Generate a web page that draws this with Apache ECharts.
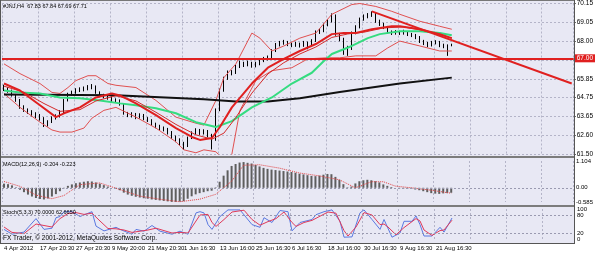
<!DOCTYPE html>
<html>
<head>
<meta charset="utf-8">
<script src="https://cdn.jsdelivr.net/npm/echarts@6/dist/echarts.min.js"></script>
<style>
html, body { margin: 0; padding: 0; background: #fff; }
#chart { width: 596px; height: 253px; }
</style>
</head>
<body>
<div id="chart"></div>
<script>
// time axis: one label every 9 slots
var timeLabels = ['4 Apr 2012', '17 Apr 20:30', '27 Apr 20:30', '9 May 20:00', '21 May 20:30', '1 Jun 16:30',
  '13 Jun 16:00', '25 Jun 16:30', '6 Jul 16:30', '18 Jul 16:00', '30 Jul 16:30', '9 Aug 16:30', '21 Aug 16:30'];
var priceLabels = ['61.50', '62.60', '63.65', '64.75', '65.85', '66.90', '68.00', '69.05', '70.15'];
var SLOTS = 143;

// [open, close, low, high]
var candles = [
  [65.35, 65.26, 65.12, 65.48], [65.26, 65.15, 65.02, 65.34], [65.15, 64.87, 64.80, 65.20], [64.87, 64.58, 64.50, 64.95],
  [64.58, 64.18, 64.10, 64.66], [64.18, 64.01, 63.92, 64.30], [64.01, 63.90, 63.80, 64.12], [63.90, 63.78, 63.66, 64.02],
  [63.78, 63.67, 63.55, 63.90], [63.67, 63.56, 63.42, 63.80], [63.56, 63.16, 63.05, 63.62], [63.16, 63.33, 63.08, 63.44],
  [63.33, 63.56, 63.28, 63.66], [63.56, 63.67, 63.48, 63.78], [63.67, 63.90, 63.60, 64.02], [63.90, 64.58, 63.86, 64.66],
  [64.58, 64.92, 64.52, 65.02], [64.92, 65.04, 64.84, 65.14], [65.04, 65.15, 64.96, 65.28], [65.15, 65.21, 65.06, 65.33],
  [65.21, 65.26, 65.10, 65.38], [65.26, 65.32, 65.16, 65.46], [65.32, 65.38, 65.22, 65.52], [65.38, 65.04, 64.96, 65.44],
  [65.04, 64.87, 64.78, 65.10], [64.87, 64.81, 64.70, 64.96], [64.81, 64.75, 64.62, 64.90], [64.75, 64.58, 64.48, 64.82],
  [64.58, 64.58, 64.44, 64.70], [64.58, 64.35, 64.28, 64.64], [64.35, 63.84, 63.76, 64.40], [63.84, 63.73, 63.62, 63.92],
  [63.73, 63.78, 63.60, 63.90], [63.78, 63.62, 63.50, 63.86], [63.62, 63.73, 63.54, 63.84], [63.73, 63.56, 63.44, 63.80],
  [63.56, 63.45, 63.34, 63.62], [63.45, 63.22, 63.12, 63.50], [63.22, 63.10, 62.98, 63.30], [63.10, 62.99, 62.86, 63.18],
  [62.99, 62.93, 62.80, 63.08], [62.93, 62.76, 62.62, 63.00], [62.76, 62.48, 62.36, 62.82], [62.48, 62.31, 62.18, 62.56],
  [62.31, 62.14, 62.00, 62.40], [62.14, 61.97, 61.74, 62.20], [61.97, 62.42, 61.90, 62.50], [62.42, 62.71, 62.36, 62.80],
  [62.71, 62.88, 62.62, 62.98], [62.88, 62.71, 62.60, 62.94], [62.71, 62.82, 62.62, 62.92], [62.82, 62.59, 62.46, 62.88],
  [62.59, 62.31, 61.76, 62.66], [62.31, 64.01, 62.26, 64.12], [64.01, 65.15, 63.96, 65.26], [65.15, 65.83, 65.08, 65.94],
  [65.83, 66.17, 65.76, 66.30], [66.17, 66.17, 66.02, 66.32], [66.17, 66.51, 66.10, 66.62], [66.51, 66.74, 66.44, 66.86],
  [66.74, 66.63, 66.50, 66.80], [66.63, 66.74, 66.54, 66.86], [66.74, 66.57, 66.46, 66.80], [66.57, 66.68, 66.48, 66.80],
  [66.68, 66.85, 66.60, 66.96], [66.85, 66.97, 66.78, 67.08], [66.97, 67.03, 66.88, 67.16], [67.03, 67.42, 66.98, 67.52],
  [67.42, 67.76, 67.36, 67.88], [67.76, 67.88, 67.68, 68.00], [67.88, 67.93, 67.78, 68.06], [67.93, 67.82, 67.70, 68.00],
  [67.82, 67.76, 67.64, 67.90], [67.76, 67.82, 67.66, 67.94], [67.82, 67.76, 67.62, 67.90], [67.76, 67.88, 67.66, 68.00],
  [67.88, 67.82, 67.52, 67.96], [67.82, 67.99, 67.74, 68.10], [67.99, 68.50, 67.94, 68.60], [68.50, 68.56, 68.40, 68.70],
  [68.56, 68.90, 68.50, 69.00], [68.90, 69.13, 68.84, 69.26], [69.13, 69.47, 69.06, 69.58], [69.47, 68.39, 68.30, 69.52],
  [68.39, 68.11, 67.98, 68.46], [68.11, 67.65, 67.20, 68.18], [67.65, 67.54, 67.14, 67.72], [67.54, 68.45, 67.48, 68.54],
  [68.45, 68.79, 68.38, 68.90], [68.79, 69.24, 68.72, 69.34], [69.24, 69.41, 69.16, 69.52], [69.41, 69.47, 69.30, 69.60],
  [69.47, 69.58, 69.38, 69.70], [69.58, 69.13, 69.04, 69.62], [69.13, 68.96, 68.86, 69.22], [68.96, 68.79, 68.68, 69.04],
  [68.79, 68.50, 68.40, 68.86], [68.50, 68.45, 68.34, 68.60], [68.45, 68.50, 68.36, 68.62], [68.50, 68.45, 68.34, 68.58],
  [68.45, 68.50, 68.36, 68.64], [68.50, 68.39, 68.28, 68.56], [68.39, 68.33, 68.22, 68.46], [68.33, 68.22, 68.10, 68.40],
  [68.22, 67.99, 67.88, 68.28], [67.99, 67.88, 67.76, 68.06], [67.88, 67.76, 67.64, 67.94], [67.76, 67.88, 67.68, 68.00],
  [67.88, 67.93, 67.80, 68.04], [67.93, 67.76, 67.64, 68.00], [67.76, 67.71, 67.58, 67.84], [67.71, 67.59, 67.14, 67.80],
  [67.83, 67.71, 67.69, 67.84]
];

// indicator lines, [slot, value]
var maRed = [[0, 65.55], [4, 65.15], [9, 64.30], [13, 63.62], [15, 63.84], [19, 64.18], [23, 64.75], [27, 64.98],
  [29, 64.87], [33, 64.41], [38, 63.73], [43, 62.99], [47, 62.48], [49, 62.31], [52, 62.42], [54, 63.05], [57, 64.18],
  [62, 65.55], [66, 66.46], [70, 66.97], [74, 67.42], [78, 67.82], [82, 68.39], [85, 68.45], [88, 68.45], [92, 68.67],
  [97, 68.84], [99, 68.84], [104, 68.67], [109, 68.39], [112, 68.16]];
var bbMid = [[0, 65.40], [5, 65.05], [10, 64.40], [14, 63.95], [19, 64.05], [23, 64.55], [28, 64.85], [33, 64.55],
  [38, 63.90], [43, 63.20], [48, 62.60], [52, 62.35], [55, 62.70], [58, 63.60], [62, 65.00], [66, 66.10], [70, 66.75],
  [74, 67.25], [78, 67.65], [82, 68.20], [86, 68.40], [90, 68.50], [95, 68.75], [100, 68.80], [105, 68.60], [109, 68.35],
  [112, 68.15]];
var maGreen = [[0, 65.15], [4, 65.04], [9, 64.98], [14, 64.75], [19, 64.70], [24, 64.58], [29, 64.41], [33, 64.30],
  [38, 64.13], [43, 63.84], [48, 63.33], [53, 63.05], [57, 63.39], [62, 64.18], [67, 64.75], [72, 65.55], [77, 66.17],
  [80, 66.85], [82, 67.25], [87, 67.71], [91, 68.16], [94, 68.39], [99, 68.56], [104, 68.56], [109, 68.45], [112, 68.33]];
var maBlack = [[0, 64.92], [28, 64.87], [50, 64.64], [58, 64.52], [66, 64.52], [74, 64.70], [84, 65.06], [99, 65.55],
  [112, 65.89]];
var bbUpper = [[0, 66.68], [4, 66.12], [9, 65.55], [12, 65.04], [14, 64.98], [16, 65.32], [18, 65.72], [21, 66.00],
  [23, 66.00], [26, 65.55], [28, 65.45], [33, 65.32], [38, 64.58], [43, 63.62], [48, 63.27], [50, 63.16], [53, 64.58],
  [55, 65.89], [58, 66.68], [62, 68.45], [64, 68.16], [67, 67.42], [70, 67.71], [74, 68.16], [78, 68.45], [82, 69.53],
  [87, 70.09], [89, 70.15], [93, 69.98], [97, 69.70], [99, 69.53], [104, 69.13], [109, 68.84], [112, 68.67]];
var bbLower = [[0, 64.98], [4, 64.18], [9, 63.33], [12, 62.88], [14, 62.76], [17, 62.76], [20, 62.99], [22, 63.56],
  [25, 64.01], [28, 64.18], [33, 63.62], [38, 62.99], [43, 62.20], [45, 61.74], [48, 61.57], [50, 61.74], [53, 61.63],
  [56, 60.90], [57, 61.50], [59, 64.00], [63, 65.72], [67, 66.29], [72, 66.46], [76, 66.97], [81, 67.03], [84, 67.03],
  [88, 67.14], [93, 67.14], [96, 67.60], [99, 67.99], [104, 67.71], [109, 67.42], [112, 67.42]];
var trendLine = [[92, 69.70], [142, 65.55]];
var levelRed = 67.00;
var lastClose = 67.71;

var macdHist = [0.17, 0.15, 0.10, 0.02, -0.08, -0.18, -0.28, -0.36, -0.42, -0.46, -0.48, -0.44, -0.36, -0.26, -0.14, -0.02,
  0.08, 0.14, 0.19, 0.22, 0.25, 0.27, 0.26, 0.22, 0.17, 0.11, 0.05, 0.00, -0.04,
  -0.10, -0.20, -0.28, -0.33, -0.37, -0.40, -0.43, -0.45, -0.48, -0.50, -0.52, -0.54, -0.56, -0.58, -0.58, -0.57, -0.55,
  -0.45, -0.35, -0.27, -0.22, -0.18, -0.14, -0.12, 0.02, 0.25, 0.50, 0.72, 0.90, 0.98, 1.04, 1.06, 1.03, 1.00,
  0.94, 0.88, 0.82, 0.78, 0.75, 0.73, 0.71, 0.69, 0.67, 0.65, 0.62, 0.58, 0.55, 0.52, 0.49, 0.48,
  0.50, 0.54, 0.57, 0.56, 0.45, 0.33, 0.15, 0.02, 0.05, 0.18, 0.27, 0.31, 0.33, 0.31, 0.27, 0.22,
  0.14, 0.08, 0.03, 0.00, -0.02, -0.03, -0.04, -0.05, -0.07, -0.10, -0.14, -0.18, -0.22, -0.24, -0.25, -0.23, -0.22, -0.204];
var macdSignal = [[0, 0.26], [4, 0.06], [8, -0.30], [12, -0.45], [15, -0.32], [19, 0.13], [24, 0.20], [29, -0.07],
  [34, -0.34], [39, -0.47], [44, -0.575], [49, -0.47], [53, -0.27], [57, 0.27], [60, 0.93], [64, 0.95], [69, 0.81],
  [74, 0.61], [79, 0.49], [84, 0.33], [88, 0.00], [92, 0.25], [95, 0.25], [98, 0.07], [102, 0.00], [107, -0.10],
  [112, -0.223]];
var macdTicks = ['-0.585', '0.00', '', '1.104'];

var stochMain = [[0, 32], [2, 16], [5, 23], [8, 68], [10, 32], [12, 36], [13, 71], [14, 75], [15, 91], [17, 91], [19, 75],
  [22, 91], [23, 43], [25, 27], [28, 39], [29, 32], [32, 16], [33, 32], [35, 26], [37, 45], [39, 26], [42, 16], [44, 26],
  [46, 16], [48, 87], [49, 91], [50, 87], [51, 48], [52, 32], [54, 75], [56, 97], [59, 97], [62, 48], [64, 39], [65, 71],
  [67, 55], [69, 95], [71, 91], [72, 27], [74, 55], [77, 65], [78, 81], [80, 91], [82, 97], [84, 59], [85, 6], [87, 7],
  [89, 87], [90, 97], [92, 65], [94, 32], [95, 65], [97, 6], [99, 20], [100, 59], [102, 59], [103, 77], [104, 48],
  [105, 10], [107, 10], [109, 39], [110, 23], [112, 70]];
var stochSignal = [[0, 40], [2, 22], [5, 18], [8, 50], [10, 45], [12, 40], [13, 55], [14, 68], [16, 85], [18, 88], [20, 82],
  [22, 86], [24, 60], [26, 35], [28, 34], [30, 30], [32, 22], [34, 26], [36, 30], [38, 36], [40, 28], [42, 20], [44, 22],
  [46, 20], [48, 60], [49, 80], [51, 82], [52, 55], [53, 42], [55, 65], [57, 90], [60, 96], [62, 65], [64, 46], [66, 58],
  [68, 68], [70, 90], [72, 55], [73, 42], [75, 55], [77, 62], [79, 76], [81, 90], [83, 86], [85, 28], [86, 10], [88, 40],
  [90, 88], [92, 80], [94, 48], [95, 50], [96, 40], [98, 14], [100, 38], [102, 58], [103, 68], [104, 60], [105, 30],
  [107, 12], [109, 28], [110, 30], [112, 62.67]];
var stochLevels = [20, 80];

var slots = [];
for (var i = 0; i < SLOTS; i++) slots.push(i);

var FONT = "'Liberation Sans', sans-serif";
var gridLine = { show: true, interval: function (i) { return i % 9 === 0; }, lineStyle: { color: '#b4b4c8', type: [2, 2], width: 1 } };
function catAxis(g, showLabels) {
  return {
    type: 'category', gridIndex: g, data: slots, boundaryGap: true,
    axisLine: { show: false }, axisTick: { show: false },
    axisLabel: {
      show: showLabels, fontSize: 6, fontFamily: FONT, color: '#000', align: 'left', margin: 6,
      interval: function (i) { return i % 9 === 0 && i / 9 < timeLabels.length; },
      formatter: function (v, i) { return timeLabels[Math.round(v / 9)] || ''; }
    },
    splitLine: gridLine
  };
}
function line(data, color, width, xi, yi, type) {
  return {
    type: 'line', data: data, xAxisIndex: xi, yAxisIndex: yi, symbol: 'none', silent: true,
    lineStyle: { color: color, width: width, type: type || 'solid' }
  };
}
var sideLabel = { fontSize: 6, fontFamily: FONT, color: '#000', margin: 3, showMinLabel: true, showMaxLabel: true };
var noLine = { axisLine: { show: false }, axisTick: { show: false }, splitLine: { show: false } };

var chart = echarts.init(document.getElementById('chart'));
chart.setOption({
  animation: false,
  backgroundColor: '#ffffff',
  grid: [
    { left: 2, right: 22, top: 2, height: 152 },
    { left: 2, right: 22, top: 161, height: 41 },
    { left: 2, right: 22, top: 209, height: 30 }
  ],
  xAxis: [catAxis(0, false), catAxis(1, false), catAxis(2, true)],
  yAxis: [
    Object.assign({ type: 'value', gridIndex: 0, position: 'right', min: 61.5, max: 70.15, scale: true,
      axisLabel: { show: false } }, noLine),
    { type: 'value', gridIndex: 0, position: 'right', min: 0, max: 8, interval: 1,
      axisLine: { show: false }, axisTick: { show: true, length: 2, lineStyle: { color: '#333' } },
      axisLabel: Object.assign({}, sideLabel, { fontSize: 6.5, formatter: function (v) { return priceLabels[Math.round(v)]; } }),
      splitLine: { show: true, lineStyle: { color: '#b4b4c8', type: [2, 2] } } },
    Object.assign({ type: 'value', gridIndex: 1, position: 'right', min: -0.585, max: 1.104, interval: 0.585,
      axisLabel: Object.assign({}, sideLabel, { formatter: function (v) {
        if (Math.abs(v + 0.585) < 1e-6) return macdTicks[0];
        if (Math.abs(v) < 1e-6) return macdTicks[1];
        if (Math.abs(v - 1.104) < 1e-6) return macdTicks[3];
        return macdTicks[2];
      } }) }, noLine),
    Object.assign({ type: 'value', gridIndex: 2, position: 'right', min: 0, max: 100, interval: 100,
      axisLabel: Object.assign({}, sideLabel, { formatter: function (v) { return String(v); } }) }, noLine),
    Object.assign({ type: 'value', gridIndex: 2, position: 'right', min: 0, max: 100, interval: 20,
      axisLabel: Object.assign({}, sideLabel, { showMinLabel: false, showMaxLabel: false,
        formatter: function (v) { return stochLevels.indexOf(v) >= 0 ? String(v) : ''; } }) }, noLine)
  ],
  graphic: [
    { type: 'rect', z: -1, shape: { x: 1, y: 0, width: 573, height: 156 }, style: { fill: '#e8e8f4' } },
    { type: 'rect', z: -1, shape: { x: 1, y: 158, width: 573, height: 47 }, style: { fill: '#e8e8f4' } },
    { type: 'rect', z: -1, shape: { x: 1, y: 207, width: 573, height: 36 }, style: { fill: '#e8e8f4' } },
    { type: 'rect', z: 20, shape: { x: 0, y: 156, width: 575, height: 2 }, style: { fill: '#7c7c7c' } },
    { type: 'rect', z: 20, shape: { x: 0, y: 205, width: 575, height: 2 }, style: { fill: '#7c7c7c' } },
    { type: 'rect', z: 20, shape: { x: 0, y: 243, width: 575, height: 1 }, style: { fill: '#555' } },
    { type: 'rect', z: 20, shape: { x: 0, y: 0, width: 575, height: 1 }, style: { fill: '#777' } },
    { type: 'rect', z: 20, shape: { x: 0, y: 0, width: 1, height: 244 }, style: { fill: '#555' } },
    { type: 'rect', z: 20, shape: { x: 574, y: 0, width: 1, height: 244 }, style: { fill: '#555' } },
    { type: 'text', z: 30, left: 3, top: 3, style: { text: '#JNJ,H4  67.83 67.84 67.69 67.71', fontSize: 5.5, fontFamily: FONT, fill: '#000' } },
    { type: 'text', z: 30, left: 3, top: 161, style: { text: 'MACD(12,26,9) -0.204 -0.223', fontSize: 5.5, fontFamily: FONT, fill: '#000' } },
    { type: 'text', z: 30, left: 3, top: 209, style: { text: 'Stoch(5,3,3) 70.0000 62.6650', fontSize: 5.5, fontFamily: FONT, fill: '#000' } },
    { type: 'text', z: 30, left: 3, top: 235, style: { text: 'FX Trader, \u00a9 2001-2012, MetaQuotes Software Corp.', fontSize: 6.5, fontFamily: FONT, fill: '#000' } }
  ],
  series: [
    line(bbUpper, '#e05050', 1, 0, 0),
    line(bbLower, '#e05050', 1, 0, 0),
    line(maBlack, '#111111', 2, 0, 0),
    line(maGreen, '#35dc80', 2, 0, 0),
    line(bbMid, '#d42a2a', 1, 0, 0),
    line(maRed, '#e02020', 2, 0, 0),
    {
      type: 'candlestick', xAxisIndex: 0, yAxisIndex: 0, data: candles, barWidth: 1, silent: true,
      itemStyle: { color: '#000000', color0: '#000000', borderColor: '#000000', borderColor0: '#000000', borderWidth: 1 },
      markLine: {
        silent: true, symbol: 'none', animation: false,
        data: [
          { yAxis: levelRed, lineStyle: { color: '#e02020', width: 2, type: 'solid' },
            label: { show: true, position: 'end', formatter: levelRed.toFixed(2), fontSize: 6.5, fontFamily: FONT,
              color: '#fff', backgroundColor: '#e02020', padding: [1, 2, 0, 2], distance: 1 } },
          { yAxis: lastClose, lineStyle: { opacity: 0 },
            label: { show: true, position: 'end', formatter: lastClose.toFixed(2), fontSize: 6.5, fontFamily: FONT,
              color: '#fff', backgroundColor: '#000', padding: [1, 2, 0, 2], distance: 1 } }
        ]
      }
    },
    line(trendLine, '#e02020', 2, 0, 0),
    { type: 'bar', xAxisIndex: 1, yAxisIndex: 2, data: macdHist, barWidth: 2, silent: true, itemStyle: { color: '#5e5e5e' },
      markLine: { silent: true, symbol: 'none', label: { show: false },
        lineStyle: { color: '#9a9ab0', type: [2, 2], width: 1 }, data: [{ yAxis: 0 }] } },
    line(macdSignal, '#e04040', 1, 1, 2, 'dotted'),
    Object.assign(line(stochMain, '#5a78e0', 1, 2, 3), {
      markLine: { silent: true, symbol: 'none', label: { show: false },
        lineStyle: { color: '#9a9ab0', type: [2, 2], width: 1 },
        data: stochLevels.map(function (v) { return { yAxis: v }; }) }
    }),
    line(stochSignal, '#e03a5a', 1, 2, 3)
  ]
});
</script>
</body>
</html>
